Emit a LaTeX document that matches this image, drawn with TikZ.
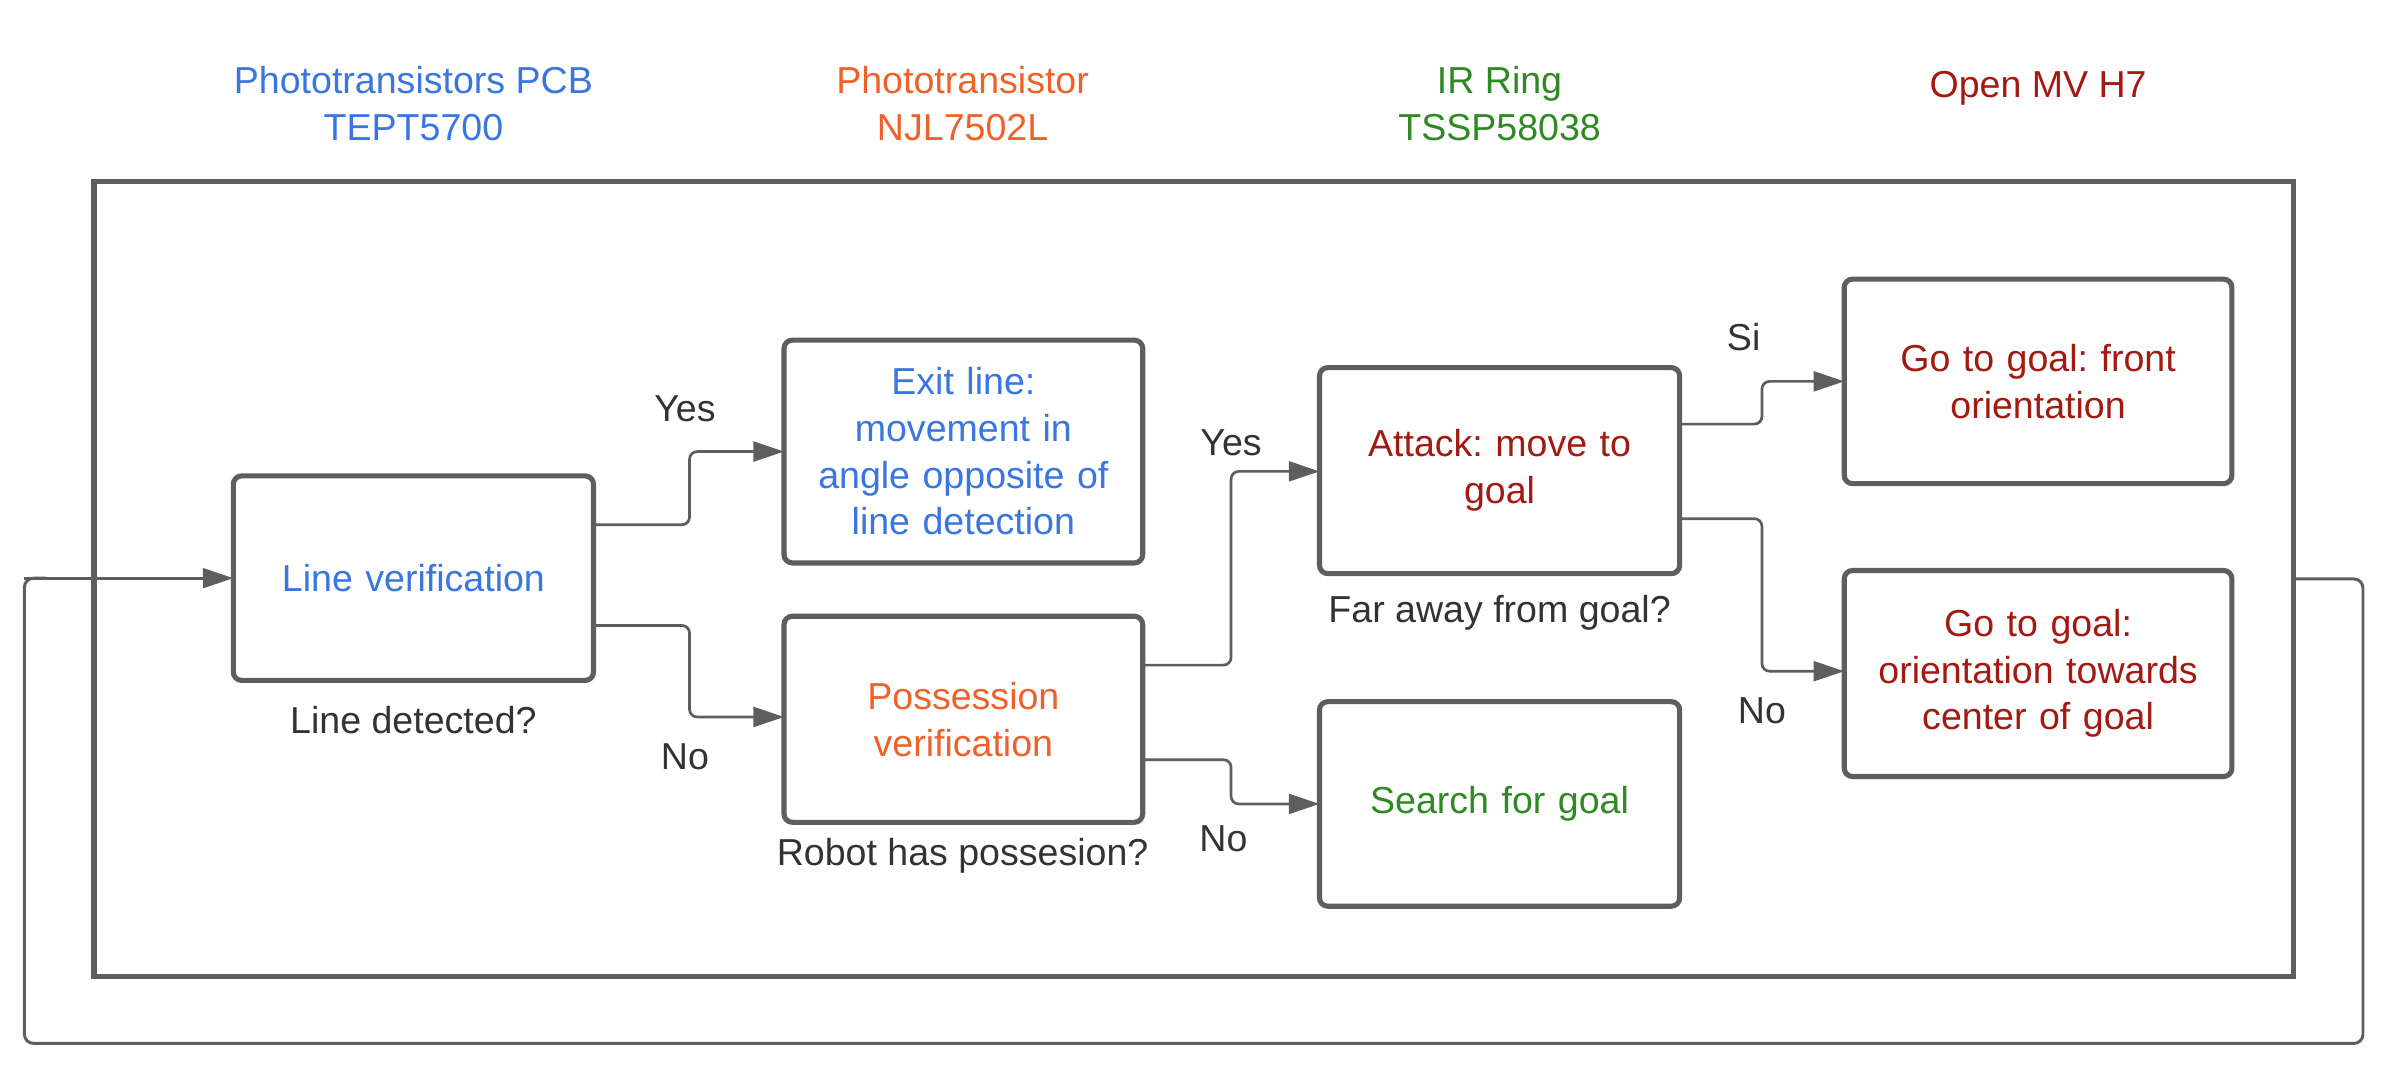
\documentclass[tikz,border=0pt]{standalone}
\usepackage{fontspec}
\setmainfont{Liberation Sans}
\frenchspacing
\usetikzlibrary{arrows.meta}
\definecolor{cblue}{HTML}{3A76DF}
\definecolor{corange}{HTML}{EF612A}
\definecolor{cgreen}{HTML}{2F8A23}
\definecolor{cred}{HTML}{A31A13}
\definecolor{ctext}{HTML}{333333}
\definecolor{cline}{HTML}{5E5E5E}
\tikzset{
  every node/.style={font=\fontsize{7}{8.7}\selectfont\frenchspacing, inner sep=0pt, outer sep=0pt},
  box/.style={draw=cline, line width=0.95pt, rounded corners=0.55mm, fill=white, align=center, text width=2.2cm},
  frameb/.style={draw=cline, line width=1pt},
  conn/.style={draw=cline, line width=0.5pt, rounded corners=0.5mm, -{Triangle[length=2mm,width=1.3mm]}},
  loopline/.style={draw=cline, line width=0.55pt, rounded corners=0.6mm},
  lbl/.style={text=ctext, align=center},
}
\begin{document}
\begin{tikzpicture}[x=0.01cm, y=-0.01cm]
\useasboundingbox (0,0) rectangle (1568,703);
\fill[white] (0,0) rectangle (1568,703);
% frame
\node[frameb, minimum width=14.41cm, minimum height=5.21cm] (frame) at (782.5,379.5) {};
% headers
\node[lbl, text=cblue] (h1) at (271,68) {Phototransistors PCB\\TEPT5700};
\node[lbl, text=corange] (h2) at (631,68) {Phototransistor\\NJL7502L};
\node[lbl, text=cgreen] (h3) at (983,68) {IR Ring\\TSSP58038};
\node[lbl, text=cred] (h4) at (1336,58) {Open MV H7};
% boxes
\node[box, minimum width=2.36cm, minimum height=1.34cm, text=cblue] (lv) at (271,379) {Line verification};
\node[box, minimum width=2.35cm, minimum height=1.46cm, text=cblue] (ex) at (631.5,296) {Exit line:\\movement in\\angle opposite of\\line detection};
\node[box, minimum width=2.35cm, minimum height=1.35cm, text=corange] (po) at (631.5,471.5) {Possession\\verification};
\node[box, minimum width=2.36cm, minimum height=1.35cm, text=cred] (at) at (983,308.5) {Attack: move to\\goal};
\node[box, minimum width=2.36cm, minimum height=1.34cm, text=cgreen] (se) at (983,527) {Search for goal};
\node[box, minimum width=2.54cm, minimum height=1.34cm, text=cred, text width=2.4cm] (fr) at (1336,250) {Go to goal: front\\orientation};
\node[box, minimum width=2.54cm, minimum height=1.35cm, text=cred, text width=2.4cm] (or) at (1336,441.5) {Go to goal:\\orientation towards\\center of goal};
% captions
\node[lbl] (c1) at (271,472) {Line detected?};
\node[lbl] (c2) at (631,561) {Robot has possesion?};
\node[lbl] (c3) at (983,402) {Far away from goal?};
% edge labels
\node[lbl] (l1) at (449,268) {Yes};
\node[lbl] (l2) at (449,496) {No};
\node[lbl] (l3) at (807,290) {Yes};
\node[lbl] (l4) at (802,550) {No};
\node[lbl] (l5) at (1143,221) {Si};
\node[lbl] (l6) at (1155,466) {No};
% connectors
\draw[conn] (lv.east |- 0,344) -- (452,344) -- (452,296) -- (ex.west);
\draw[conn] (lv.east |- 0,410) -- (452,410) -- (452,470) -- (po.west |- 0,470);
\draw[conn] (po.east |- 0,436) -- (807,436) -- (807,309) -- (at.west |- 0,309);
\draw[conn] (po.east |- 0,498) -- (807,498) -- (807,527) -- (se.west);
\draw[conn] (at.east |- 0,278) -- (1155,278) -- (1155,250) -- (fr.west);
\draw[conn] (at.east |- 0,340) -- (1155,340) -- (1155,440) -- (or.west |- 0,440);
% feedback loop
\coordinate (r1) at (1549,379.5);
\coordinate (r2) at (1549,684);
\coordinate (r3) at (16,684);
\coordinate (r4) at (16,379);
\draw[loopline] (frame.east) -- (r1) -- (r2) -- (r3) -- (r4) -- (30,379);
\draw[conn] (r4) -- (lv.west);
\end{tikzpicture}
\end{document}
